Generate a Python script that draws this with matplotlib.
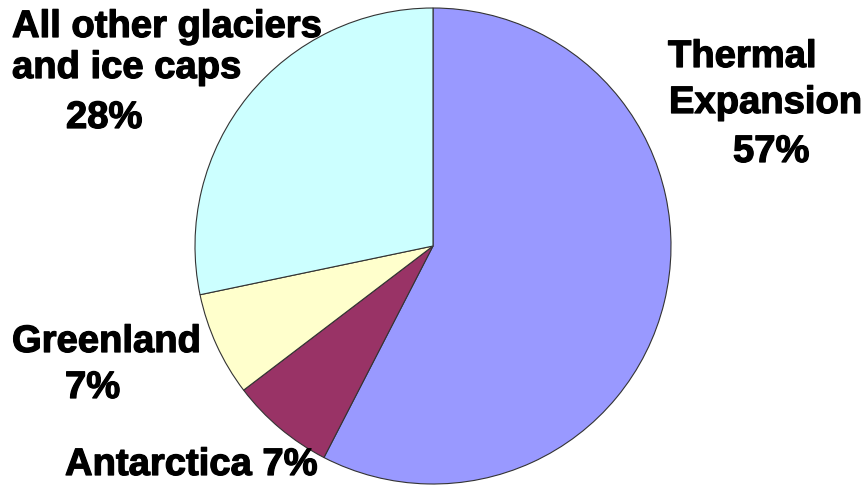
import matplotlib
matplotlib.use("Agg")
import matplotlib.pyplot as plt
import matplotlib.patheffects as pe

# Contributions to sea-level rise (percent)
categories = ["Thermal Expansion", "Antarctica", "Greenland", "All other glaciers and ice caps"]
values = [57, 7, 7, 28]
colors = ["#9999FF", "#993366", "#FFFFCC", "#CCFFFF"]

W, H = 867, 486
fig = plt.figure(figsize=(W / 100, H / 100), dpi=100)
fig.patch.set_facecolor("white")

# pie centre (433, 246) px, radius 238 px
cx, cy, r = 433, 246, 238
ax = fig.add_axes([(cx - r) / W, (H - cy - r) / H, 2 * r / W, 2 * r / H])
ax.pie(values, colors=colors, startangle=90, counterclock=False,
       wedgeprops=dict(edgecolor="#333333", linewidth=0.8))
ax.set_xlim(-1, 1)
ax.set_ylim(-1, 1)
ax.set_aspect("equal")
ax.axis("off")

font = dict(family=["Liberation Sans", "DejaVu Sans"], weight="bold", size=27.5, color="black",
            path_effects=[pe.withStroke(linewidth=0.9, foreground="black")])


def line(x, y, s):
    fig.text(x / W, 1 - y / H, s, ha="left", va="baseline", **font)


pct = {c: f"{v}%" for c, v in zip(categories, values)}

line(12, 37, "All other glaciers")
line(12, 78, "and ice caps")
line(66, 128, pct[categories[3]])

line(668, 67, "Thermal")
line(669, 113, "Expansion")
line(733, 162, pct[categories[0]])

line(12, 352, "Greenland")
line(65, 398, pct[categories[2]])

line(65, 475, "Antarctica " + pct[categories[1]])

fig.savefig("out.png", dpi=100, facecolor="white")
